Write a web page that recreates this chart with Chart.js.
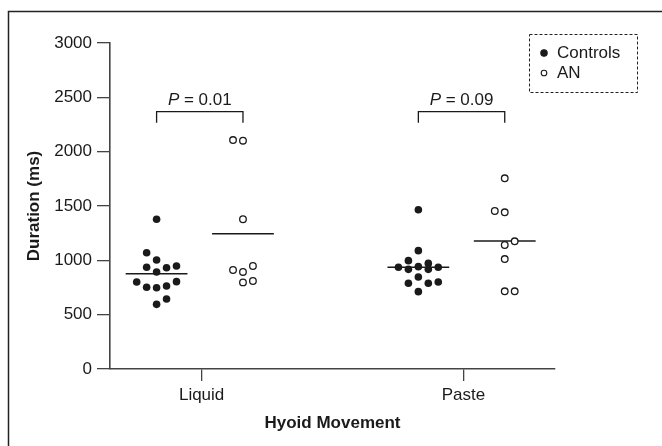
<!DOCTYPE html>
<html>
<head>
<meta charset="utf-8">
<script src="https://cdn.jsdelivr.net/npm/chart.js@4/dist/chart.umd.min.js"></script>
<style>
  html, body { margin: 0; padding: 0; background: #fff; }
  #wrap { width: 662px; height: 446px; position: relative; }
</style>
</head>
<body>
<div id="wrap"><canvas id="chart_dur"></canvas></div>
<script>
const categories = ['Liquid', 'Paste'];
const yTicks = [0, 500, 1000, 1500, 2000, 2500, 3000];

// Duration (ms) per subject, with the column each dot sits in
const controlsLiquid = [1378, 1070, 1003, 936, 932, 948, 893, 801, 752, 748, 764, 804, 595, 644];
const controlsLiquidCol = [0, -1, 0, -1, 1, 2, 0, -2, -1, 0, 1, 2, 0, 1];
const anLiquid = [2107, 2101, 1378, 911, 893, 948, 797, 810];
const anLiquidCol = [-1, 0, 0, -1, 0, 1, 0, 1];
const controlsPaste = [1466, 1089, 997, 972, 936, 917, 942, 917, 936, 847, 789, 789, 801, 712];
const controlsPasteCol = [0, 0, -1, 1, -2, -1, 0, 1, 2, 0, -1, 1, 2, 0];
const anPaste = [1755, 1454, 1442, 1175, 1141, 1012, 715, 715];
const anPasteCol = [0, -1, 0, 1, 0, 0, 0, 1];

const controlsMean = [876, 936];
const anMean = [1245, 1178];
const pValues = ['0.01', '0.09'];
const bracketTop = 2368;
const bracketFoot = 2266;

const FONT = "'Liberation Sans', Arial, sans-serif";
const INK = '#1a1a1a';
const AXIS = '#444';

const CTRL_OFF = -0.172, AN_OFF = 0.158, COL_W = 0.038, HALF = 0.118;

function dots(vals, cols, cat, off) {
  return vals.map((v, i) => ({ x: cat + off + cols[i] * COL_W, y: v }));
}
function meanLine(cat, off, v) {
  return [{ x: cat + off - HALF, y: v }, { x: cat + off + HALF, y: v }];
}
function bracket(cat) {
  const a = cat + CTRL_OFF, b = cat + AN_OFF;
  return [{ x: a, y: bracketFoot }, { x: a, y: bracketTop }, { x: b, y: bracketTop }, { x: b, y: bracketFoot }];
}

const lineStyle = { type: 'line', borderColor: INK, borderWidth: 1.5, pointRadius: 0, fill: false, tension: 0 };

const datasets = [
  {
    label: 'Controls',
    data: dots(controlsLiquid, controlsLiquidCol, 1, CTRL_OFF).concat(dots(controlsPaste, controlsPasteCol, 2, CTRL_OFF)),
    backgroundColor: INK, borderColor: INK, pointRadius: 3.8, borderWidth: 0
  },
  {
    label: 'AN',
    data: dots(anLiquid, anLiquidCol, 1, AN_OFF).concat(dots(anPaste, anPasteCol, 2, AN_OFF)),
    backgroundColor: '#fff', borderColor: INK, pointRadius: 3.3, borderWidth: 1.3
  }
];
categories.forEach((c, i) => {
  datasets.push(Object.assign({ label: 'mean', data: meanLine(i + 1, CTRL_OFF, controlsMean[i]) }, lineStyle));
  datasets.push(Object.assign({ label: 'mean', data: meanLine(i + 1, AN_OFF, anMean[i]) }, lineStyle));
  datasets.push(Object.assign({ label: 'bracket', data: bracket(i + 1) }, lineStyle, { borderWidth: 1.3 }));
});

const decor = {
  id: 'decor',
  afterDraw(chart) {
    const ctx = chart.ctx, xs = chart.scales.x, ys = chart.scales.y;
    ctx.save();
    // figure frame (left and top sides)
    ctx.strokeStyle = '#222';
    ctx.lineWidth = 1.5;
    ctx.beginPath();
    ctx.moveTo(8.5, 446); ctx.lineTo(8.5, 11.5); ctx.lineTo(662, 11.5);
    ctx.stroke();

    // P values over the brackets
    ctx.fillStyle = INK;
    ctx.textBaseline = 'alphabetic';
    pValues.forEach((p, i) => {
      const cx = xs.getPixelForValue(i + 1 + (CTRL_OFF + AN_OFF) / 2);
      const by = ys.getPixelForValue(bracketTop) - 7;
      const it = 'italic 17px ' + FONT, rg = '17px ' + FONT;
      const rest = ' = ' + p;
      ctx.font = it; const w1 = ctx.measureText('P').width;
      ctx.font = rg; const w2 = ctx.measureText(rest).width;
      const x0 = cx - (w1 + w2) / 2;
      ctx.font = it; ctx.textAlign = 'left'; ctx.fillText('P', x0, by);
      ctx.font = rg; ctx.fillText(rest, x0 + w1, by);
    });

    // legend box
    ctx.setLineDash([3, 2]);
    ctx.lineWidth = 1;
    ctx.strokeStyle = '#222';
    ctx.strokeRect(529.5, 34.5, 108, 58);
    ctx.setLineDash([]);
    ctx.font = '17px ' + FONT;
    ctx.textBaseline = 'middle';
    [0, 1].forEach(k => {
      const ds = chart.data.datasets[k];
      const y = 53 + k * 20;
      ctx.beginPath();
      ctx.arc(544, y, k ? 2.8 : 3.2, 0, Math.PI * 2);
      ctx.fillStyle = ds.backgroundColor;
      ctx.fill();
      ctx.lineWidth = 1.1;
      ctx.strokeStyle = INK;
      ctx.stroke();
      ctx.fillStyle = INK;
      ctx.fillText(ds.label, 557, y);
    });
    ctx.restore();
  }
};

new Chart(document.getElementById('chart_dur'), {
  type: 'scatter',
  data: { datasets },
  options: {
    responsive: true,
    maintainAspectRatio: false,
    animation: false,
    layout: { padding: { top: 43, right: 107, left: 0, bottom: 0 } },
    plugins: { legend: { display: false }, tooltip: { enabled: false } },
    scales: {
      x: {
        type: 'linear', min: 0.65, max: 2.35,
        afterBuildTicks: s => { s.ticks = categories.map((c, i) => ({ value: i + 1 })); },
        afterFit: s => { s.height = 77; },
        ticks: { autoSkip: false, padding: 4, color: INK, font: { family: FONT, size: 17 }, callback: v => categories[v - 1] },
        grid: { drawOnChartArea: false, tickLength: 12, color: AXIS, lineWidth: 1.3 },
        border: { color: AXIS, width: 1.6 },
        title: { display: true, text: 'Hyoid Movement', color: INK, font: { family: FONT, size: 17, weight: 'bold' }, padding: { top: 0, bottom: 12 } }
      },
      y: {
        min: 0, max: 3000,
        afterBuildTicks: s => { s.ticks = yTicks.map(v => ({ value: v })); },
        afterFit: s => { s.width = 110; },
        ticks: { padding: 5, color: INK, font: { family: FONT, size: 17 }, callback: v => String(v) },
        grid: { drawOnChartArea: false, tickLength: 13, color: AXIS, lineWidth: 1.3 },
        border: { color: AXIS, width: 1.6 },
        title: { display: true, text: 'Duration (ms)', color: INK, font: { family: FONT, size: 17, weight: 'bold' }, padding: { top: 24, bottom: 0 } }
      }
    }
  },
  plugins: [decor]
});
</script>
</body>
</html>
